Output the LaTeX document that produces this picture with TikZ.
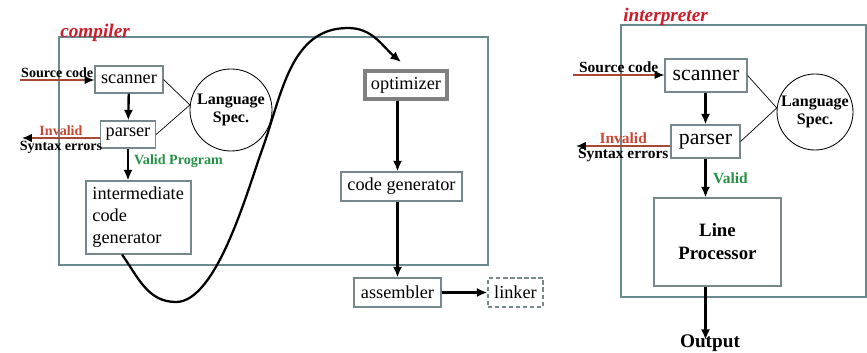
\documentclass[tikz,border=0pt]{standalone}
\usepackage{fontspec}
\setmainfont{Liberation Serif}
\usetikzlibrary{arrows.meta}

\definecolor{boxline}{RGB}{118,136,140}
\definecolor{frameline}{RGB}{105,138,142}
\definecolor{titlered}{RGB}{205,28,40}
\definecolor{badred}{RGB}{200,72,52}
\definecolor{srcline}{RGB}{170,72,52}
\definecolor{okgreen}{RGB}{38,145,68}

\tikzset{
	stage/.style={draw=boxline,line width=0.8pt,inner sep=0pt,font=\fontsize{13}{15.6}\selectfont},
	bigstage/.style={stage,font=\fontsize{15.5}{18}\selectfont},
	spec/.style={circle,draw=black,line width=0.6pt,inner sep=0pt,align=center,font=\bfseries\fontsize{11.4}{12.6}\selectfont},
	flow/.style={-{Latex[length=7.5pt,width=6.5pt]},line width=1.7pt},
	inflow/.style={-{Latex[length=7pt,width=6pt,color=black]},line width=0.9pt,draw=srcline},
	tag/.style={font=\bfseries\fontsize{10}{11}\selectfont,inner sep=1.5pt},
	bigtag/.style={font=\bfseries\fontsize{11}{12}\selectfont,inner sep=1.5pt},
	title/.style={anchor=base west,inner sep=0pt,text=titlered,font=\bfseries\itshape\fontsize{13.7}{15}\selectfont}
}

\begin{document}
\begin{tikzpicture}[x=0.025cm,y=-0.025cm]
	\useasboundingbox (0,0) rectangle (867,353);

	% compiler
	\draw[frameline,line width=0.8pt] (59,37) rectangle (488,265);
	\node[title] (ctitle) at (60,38) {compiler};

	\node[stage,minimum width=1.7cm,minimum height=0.675cm] (scanC) at (129,79.5) {scanner};
	\node[stage,minimum width=1.375cm,minimum height=0.675cm] (parsC) at (128,134.5) {parser};
	\node[stage,minimum width=2.625cm,minimum height=1.825cm,text width=2.3cm,align=left] (icg) at (138.5,217.5) {intermediate\\code\\generator};
	\node[spec,minimum size=2.05cm] (langC) at (231,110) {Language\\Spec.};
	\node[stage,draw=gray,line width=2.2pt,minimum width=2.05cm,minimum height=0.7cm] (opt) at (406,85) {optimizer};
	\node[stage,minimum width=3.025cm,minimum height=0.725cm] (cg) at (401.5,186.5) {code generator};
	\node[stage,minimum width=2.175cm,minimum height=0.725cm] (asm) at (397.5,292.5) {assembler};
	\node[stage,densely dashed,minimum width=1.375cm,minimum height=0.725cm] (lnk) at (515.5,292.5) {linker};

	\coordinate (srcC) at (20,80);
	\coordinate (invC) at (22,138);
	\coordinate (dip) at (176,302);
	\coordinate (rise) at (262,150);
	\coordinate (crest) at (348,28);
	\coordinate (optin) at (401,62);

	\draw[inflow] (srcC) -- node[tag,above] {Source code} (scanC.west |- srcC);
	\draw[inflow,{Latex[length=7pt,width=6pt,color=black]}-] (invC) -- node[tag,above,text=badred] {Invalid} node[tag,below] {Syntax errors} (parsC.west |- invC);
	\draw[flow] (scanC) -- (parsC);
	\draw[flow] (parsC.south) -- node[tag,right,pos=0.4,text=okgreen,xshift=2pt] {Valid Program} (parsC.south |- icg.north);
	\draw[flow] (asm.north |- opt.south) -- (asm.north |- cg.north);
	\draw[flow] (asm.north |- cg.south) -- (asm.north);
	\draw[flow] (asm) -- (lnk);
	\draw[flow,line width=1.6pt] ([xshift=-0.41cm]icg.south) to[out=-55,in=180] (dip) to[out=0,in=250,looseness=0.6] (rise) to[out=70,in=180] (crest) to[out=0,in=140] (optin);

	\foreach \from in {scanC,parsC}
		\draw[line width=0.5pt] (\from.east) -- (langC.173);

	% interpreter
	\draw[frameline,line width=0.8pt] (621,25) rectangle (866,297);
	\node[title] (ititle) at (623,22) {interpreter};

	\node[bigstage,minimum width=2.05cm,minimum height=0.825cm] (scanI) at (706,75.5) {scanner};
	\node[bigstage,minimum width=1.725cm,minimum height=0.825cm] (parsI) at (705.5,141.5) {parser};
	\node[spec,minimum size=1.9cm] (langI) at (815,112) {Language\\Spec.};
	\node[stage,minimum width=3.175cm,minimum height=2.2cm,align=center,font=\bfseries\fontsize{13.4}{16.4}\selectfont] (lp) at (717.5,242) {Line\\Processor};
	\node[inner sep=0pt,font=\bfseries\fontsize{13.7}{15}\selectfont] (out) at (710,343) {Output};

	\coordinate (srcI) at (573,75);
	\coordinate (invI) at (576,146);

	\draw[inflow] (srcI) -- node[bigtag,above] {Source code} (scanI.west |- srcI);
	\draw[inflow,{Latex[length=7pt,width=6pt,color=black]}-] (invI) -- node[bigtag,above,text=badred] {Invalid} node[bigtag,below] {Syntax errors} (parsI.west |- invI);
	\draw[flow] (parsI.north |- scanI.south) -- (parsI.north);
	\draw[flow] (parsI.south) -- node[bigtag,right,text=okgreen,xshift=3pt] {Valid} (parsI.south |- lp.north);
	\draw[flow] (parsI.south |- lp.south) -- ([yshift=-4pt]parsI.south |- out.north);

	\foreach \from in {scanI,parsI}
		\draw[line width=0.5pt] (\from.east) -- (langI.174);
\end{tikzpicture}
\end{document}
